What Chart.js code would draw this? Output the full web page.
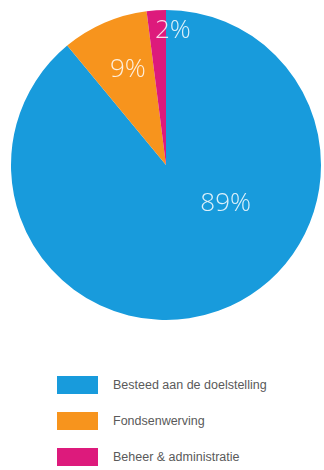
<!DOCTYPE html>
<html>
<head>
<meta charset="utf-8">
<script src="https://cdn.jsdelivr.net/npm/chart.js@4/dist/chart.umd.min.js"></script>
<style>
    body { margin: 0; background: #fff; width: 324px; height: 470px; overflow: hidden; position: relative; }
    .chart-box { position: absolute; left: 0; top: 0; width: 324px; height: 334px; }
    .legend { position: absolute; left: 57px; top: 376px; font-family: 'Liberation Sans', Arial, sans-serif; font-size: 12.5px; color: #5a5a5a; }
    .legend-row { display: flex; align-items: center; height: 18px; margin-bottom: 18px; }
    .legend-box { width: 41px; height: 18px; margin-right: 15px; }
</style>
</head>
<body>
<div class="chart-box"><canvas id="pie"></canvas></div>
<div class="legend" id="legend"></div>
<script>
const categories = ['Besteed aan de doelstelling', 'Fondsenwerving', 'Beheer & administratie'];
const shares = [89, 9, 2];
const sliceColors = ['#189bdc', '#f7941d', '#dd1a7c'];

// where each percentage sits: fraction of radius and shift from slice middle (degrees)
const labelPlacement = [
    { r: 0.46, shift: -37 },
    { r: 0.66, shift: 1.5 },
    { r: 0.87, shift: 6.5 }
];

const pctLabels = {
    id: 'pctLabels',
    afterDatasetsDraw(chart) {
        const ctx = chart.ctx;
        const arcs = chart.getDatasetMeta(0).data;
        ctx.save();
        ctx.font = '300 26px "Open Sans", Lato, sans-serif';
        ctx.fillStyle = 'rgba(255,255,255,0.85)';
        ctx.textAlign = 'center';
        ctx.textBaseline = 'middle';
        arcs.forEach((arc, i) => {
            const { x, y, startAngle, endAngle, outerRadius } = arc.getProps(['x', 'y', 'startAngle', 'endAngle', 'outerRadius'], true);
            const p = labelPlacement[i];
            const mid = (startAngle + endAngle) / 2 + p.shift * Math.PI / 180;
            const r = outerRadius * p.r;
            ctx.fillText(shares[i] + '%', x + Math.cos(mid) * r, y + Math.sin(mid) * r);
        });
        ctx.restore();
    }
};

new Chart(document.getElementById('pie'), {
    type: 'pie',
    data: {
        labels: categories,
        datasets: [{
            data: shares,
            backgroundColor: sliceColors,
            borderWidth: 0
        }]
    },
    options: {
        responsive: true,
        maintainAspectRatio: false,
        animation: false,
        layout: { padding: { left: 11, right: 3, top: 10, bottom: 14 } },
        plugins: {
            legend: { display: false },
            tooltip: { enabled: false }
        }
    },
    plugins: [pctLabels]
});

document.getElementById('legend').innerHTML = categories.map((c, i) => `
    <div class="legend-row">
        <div class="legend-box" style="background:${sliceColors[i]}"></div>
        <span>${c}</span>
    </div>
`).join('');
</script>
</body>
</html>
